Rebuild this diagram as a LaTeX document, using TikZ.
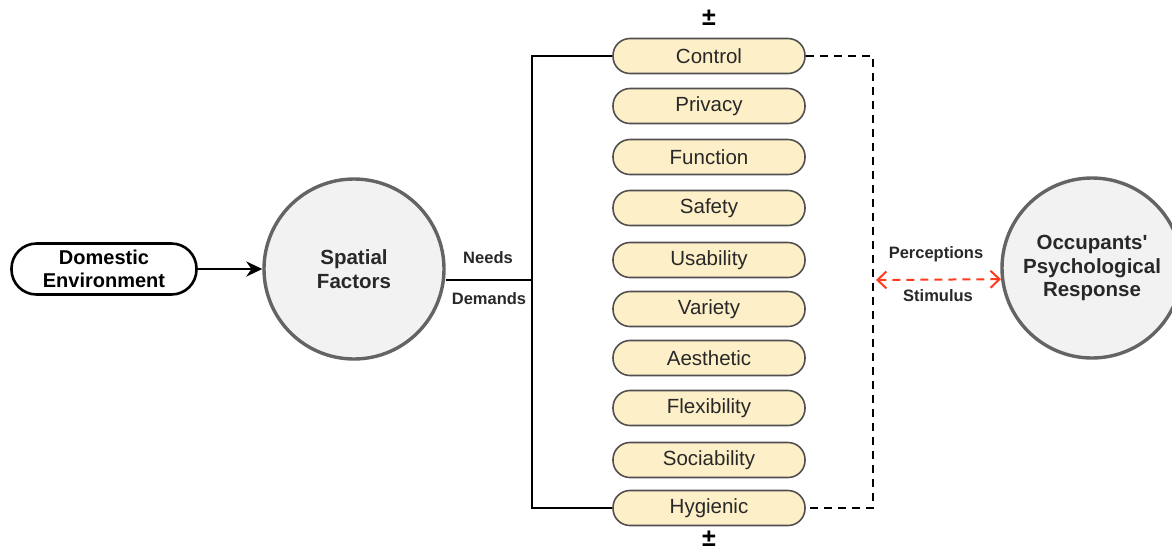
\documentclass[tikz,border=0pt]{standalone}
\usepackage{fontspec}
\setmainfont{Liberation Sans}
\newfontfamily\plainquote{Liberation Sans}
\usepackage{tikz}
\usetikzlibrary{positioning}
\usetikzlibrary{calc}
\usetikzlibrary{arrows.meta}

\definecolor{pillfill}{RGB}{253,239,199}
\definecolor{pilldraw}{RGB}{80,80,80}
\definecolor{circfill}{RGB}{242,242,242}
\definecolor{circdraw}{RGB}{100,100,100}
\definecolor{arrowred}{RGB}{255,59,31}
\definecolor{labeltext}{RGB}{40,40,40}

\begin{document}
\begin{tikzpicture}[x=1pt, y=-1pt,
			roundnode/.style={circle, draw=circdraw, line width=3.4pt, fill=circfill, minimum size=180pt, inner sep=0pt, align=center, text=labeltext, font=\bfseries\fontsize{20.5}{23.5}\selectfont},
			pillnode/.style={rectangle, rounded corners=17pt, draw=pilldraw, line width=1.6pt, fill=pillfill, minimum width=192pt, minimum height=35pt, inner sep=0pt, text=labeltext, font=\fontsize{20.5}{24}\selectfont},
			startnode/.style={rectangle, rounded corners=25pt, draw=black, line width=2.6pt, minimum width=185pt, minimum height=51pt, inner sep=0pt, align=center, font=\bfseries\fontsize{20}{23}\selectfont},
			smalllabel/.style={text=labeltext, font=\bfseries\fontsize{16.5}{20}\selectfont},
			pmlabel/.style={font=\bfseries\fontsize{25}{25}\selectfont}
			]
			\clip (0, 0) rectangle (1172, 550);
			
			\node[startnode] at (104, 269) (env) {Domestic\\Environment};
			\node[roundnode] at (354, 269) (spatial) {Spatial\\Factors};
			\node[roundnode] at (1092, 268) (response) {Occupants{\plainquote '}\\Psychological\\Response};
			
			\node[pillnode] at (709, 56) (control) {Control};
			\node[pillnode] at (709, 106) (privacy) {Privacy};
			\node[pillnode] at (709, 157) (function) {Function};
			\node[pillnode] at (709, 208) (safety) {Safety};
			\node[pillnode] at (709, 260) (usability) {Usability};
			\node[pillnode] at (709, 309) (variety) {Variety};
			\node[pillnode] at (709, 358) (aesthetic) {Aesthetic};
			\node[pillnode] at (709, 408) (flexibility) {Flexibility};
			\node[pillnode] at (709, 460) (sociability) {Sociability};
			\node[pillnode] at (709, 508) (hygienic) {Hygienic};
			
			\node[pmlabel] at (709, 18) (pmtop) {±};
			\node[pmlabel] at (709, 539) (pmbottom) {±};
			
			\node[smalllabel] at (488, 258) (needs) {Needs};
			\node[smalllabel] at (489, 299) (demands) {Demands};
			\node[smalllabel] at (936, 254) (perceptions) {Perceptions};
			\node[smalllabel] at (938, 296) (stimulus) {Stimulus};
			
			\coordinate (spine) at (532, 280);
			\coordinate (loop) at (873, 280);
			\coordinate (loopend) at (876, 280);
			
			\draw[-{Stealth[length=16pt, width=15pt]}, line width=2.8pt] (env.east) -- (spatial.west);
			\draw[-, line width=2.6pt] (spine -| spatial.east) -- (spine);
			\draw[-, line width=2.8pt] (control.west) -| (spine) |- (hygienic.west);
			\draw[-, line width=2.6pt, dash pattern=on 8pt off 6pt] (control.east) -| (loop) |- (hygienic.east);
			\draw[{Straight Barb[length=9pt, width=17pt]}-{Straight Barb[length=9pt, width=17pt]}, arrowred, line width=2pt, dash pattern=on 8pt off 6pt] (loopend) -- (response.187);
		\end{tikzpicture}
\end{document}
